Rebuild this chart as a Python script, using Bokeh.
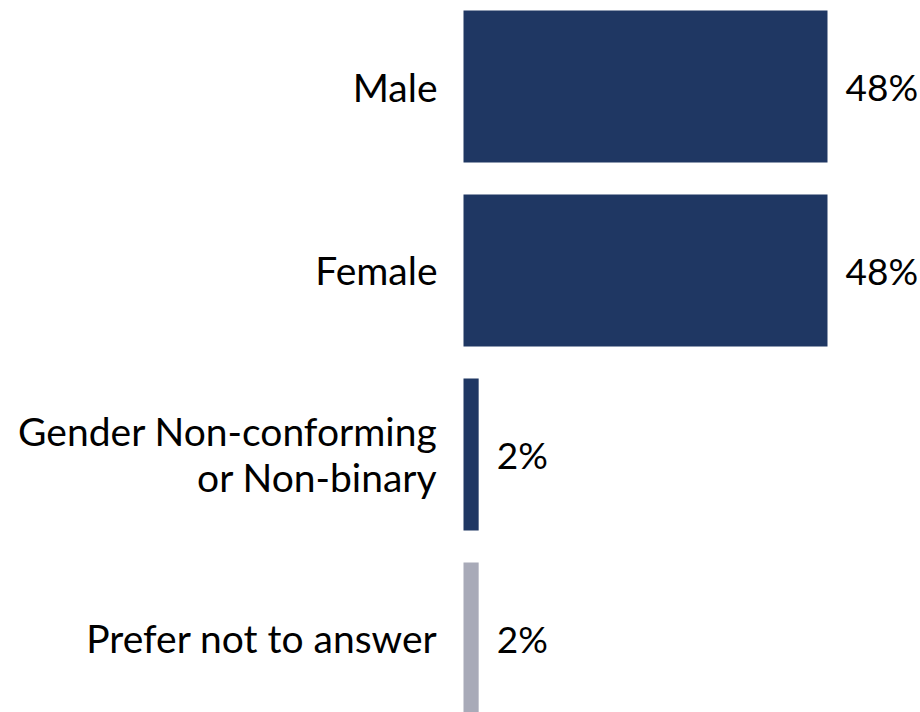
from bokeh.plotting import figure
from bokeh.models import ColumnDataSource, Range1d
from bokeh.embed import file_html
from bokeh.resources import INLINE
from bokeh.core.properties import value

categories = ["Male", "Female", "Gender Non-conforming\nor Non-binary", "Prefer not to answer"]
percents = [48, 48, 2, 2]
value_labels = ["48%", "48%", "2%", "2%"]
bar_colors = ["#1F3763", "#1F3763", "#1F3763", "#A8AAB8"]

ypos = list(range(len(categories)))
zeros = [0] * len(categories)

src = ColumnDataSource(dict(y=ypos, v=percents, cat=categories, lab=value_labels,
                            color=bar_colors, zero=zeros))

p = figure(width=920, height=712,
           x_range=Range1d(-61.055, 60.264), y_range=Range1d(3.4022, -0.4674),
           output_backend="svg", toolbar_location=None, min_border=0)
p.axis.visible = False
p.grid.visible = False
p.outline_line_color = None
p.min_border_left = p.min_border_right = p.min_border_top = p.min_border_bottom = 0

p.hbar(y="y", left="zero", right="v", height=0.826, fill_color="color",
       line_color=None, source=src)

p.text(x="zero", y="y", text="cat", source=src, x_offset=-26,
       text_align="right", text_baseline="middle",
       text_font=value("Lato"), text_font_size="39px", text_color="#000000",
       text_line_height=1.0)

p.text(x="v", y="y", text="lab", source=src, x_offset=18,
       text_align="left", text_baseline="middle",
       text_font=value("Lato"), text_font_size="37px", text_color="#000000")

open("out.html", "w").write(file_html(p, INLINE))
